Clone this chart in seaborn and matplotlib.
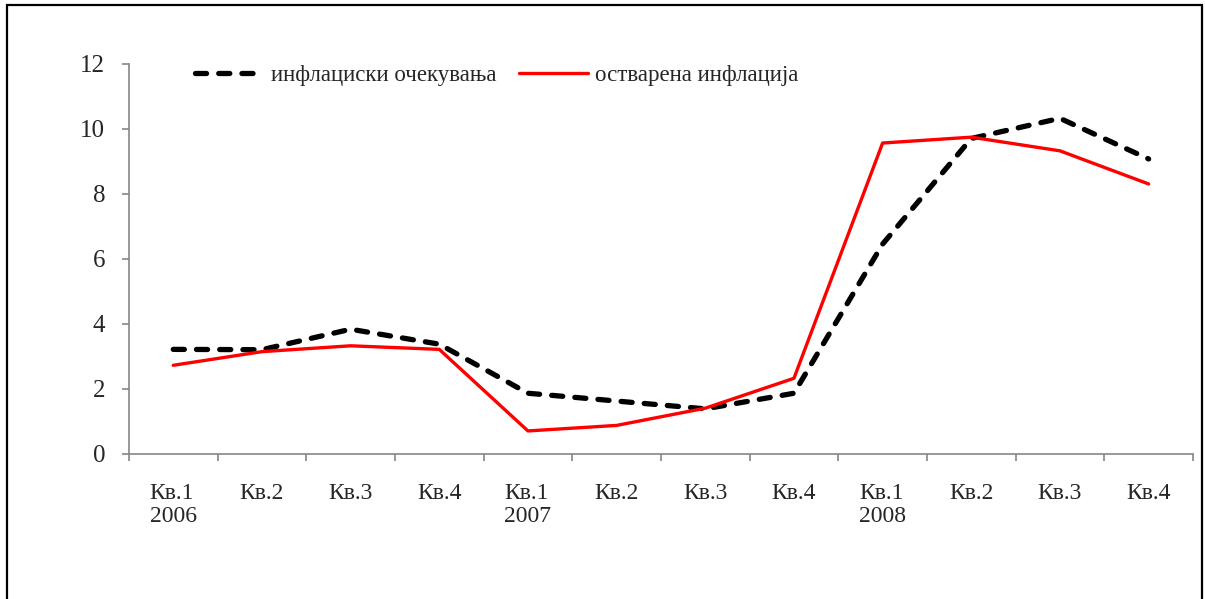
import numpy as np
import pandas as pd
import seaborn as sns
import matplotlib.pyplot as plt
from matplotlib.patches import Rectangle

quarters = ["Кв.1\n2006", "Кв.2", "Кв.3", "Кв.4",
            "Кв.1\n2007", "Кв.2", "Кв.3", "Кв.4",
            "Кв.1\n2008", "Кв.2", "Кв.3", "Кв.4"]
expected = [3.21, 3.2, 3.83, 3.37, 1.86, 1.62, 1.38, 1.86, 6.45, 9.7, 10.32, 9.07]
realized = [2.72, 3.14, 3.32, 3.21, 0.70, 0.87, 1.40, 2.32, 9.56, 9.74, 9.32, 8.30]
label_exp = "инфлациски очекувања"
label_real = "остварена инфлација"
yticks = [0, 2, 4, 6, 8, 10, 12]

sns.set_style("white")
plt.rcParams["font.family"] = ["Liberation Serif", "DejaVu Serif"]

df = pd.DataFrame({"q": np.arange(len(quarters)), "exp": expected, "real": realized})

fig = plt.figure(figsize=(12.05, 5.99), dpi=100)
ax = fig.add_axes([0.107, 0.2426, 0.883, 0.651])

sns.lineplot(data=df, x="q", y="exp", ax=ax, color="black", linewidth=3.8,
             label=label_exp)
exp_line = ax.lines[-1]
exp_line.set_dashes([2.1, 2.3])
exp_line.set_dash_capstyle("round")
sns.lineplot(data=df, x="q", y="real", ax=ax, color="#ff0000", linewidth=2.4,
             label=label_real)

ax.set_xlim(-0.5, len(quarters) - 0.5)
ax.set_ylim(0, 12)
ax.set_yticks(yticks)
ax.set_yticklabels([str(v) for v in yticks], fontsize=18)
ax.set_xticks(np.arange(-0.5, len(quarters), 1.0))
ax.set_xticklabels([])
ax.set_xticks(np.arange(len(quarters)), minor=True)
ax.set_xticklabels(quarters, minor=True, fontsize=17, linespacing=1.15)
for lab in ax.get_xticklabels(minor=True):
    lab.set_multialignment("left")
ax.tick_params(axis="x", which="minor", bottom=True, length=0, pad=21)
ax.tick_params(axis="x", which="major", bottom=True, length=5, width=1.2,
               color="#868686", direction="out")
ax.tick_params(axis="y", left=True, length=5, width=1.2, color="#868686",
               direction="out", pad=12)

for s in ["top", "right"]:
    ax.spines[s].set_visible(False)
for s in ["left", "bottom"]:
    ax.spines[s].set_color("#868686")
    ax.spines[s].set_linewidth(1.2)
ax.set_xlabel("")
ax.set_ylabel("")

leg = ax.legend(loc="center left", bbox_to_anchor=(0.043, 0.97), ncol=2, frameon=False,
                fontsize=16.5, handlelength=3.0, handletextpad=0.3, columnspacing=1.0)

fig.patches.append(Rectangle((0.0058, -0.05), 0.992, 0.05 + 0.9917, transform=fig.transFigure,
                             fill=False, edgecolor="black", linewidth=1.6))

fig.savefig("out.png", dpi=100)
